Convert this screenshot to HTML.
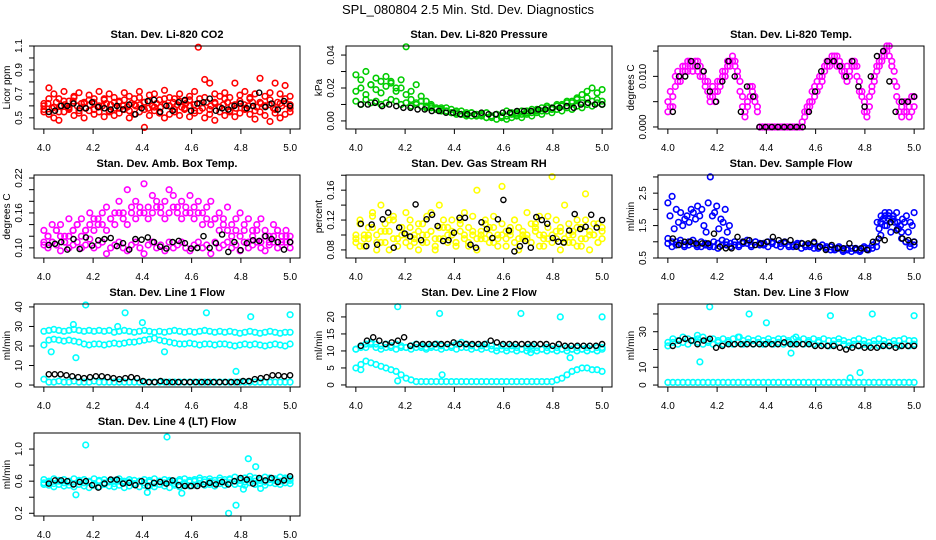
<!DOCTYPE html>
<html><head><meta charset="utf-8">
<style>
html,body{margin:0;padding:0;background:#fff;}
svg{display:block;font-family:"Liberation Sans",Arial,sans-serif;}
</style></head>
<body>
<svg id="chart" width="936" height="540" viewBox="0 0 936 540">
<text x="468" y="14" text-anchor="middle" font-size="13">SPL_080804  2.5 Min. Std. Dev. Diagnostics</text>
</svg>
<script>
// ---- data ----
const xTicks = [4.0,4.2,4.4,4.6,4.8,5.0];
const xTickLabels = ["4.0","4.2","4.4","4.6","4.8","5.0"];

const co2A = [0.62,0.75,0.70,0.66,0.72,0.64,0.68,0.71,0.63,0.69,0.66,0.72,0.65,0.70,0.67,0.64,0.71,0.68,0.66,0.72,0.63,0.69,0.70,0.65,0.73,0.67,0.66,0.70,0.64,0.68,0.72,0.66,0.82,0.79,0.70,0.68,0.71,0.67,0.79,0.69,0.72,0.66,0.70,0.83,0.68,0.71,0.79,0.70,0.77,0.68];
const co2B = [0.55,0.53,0.50,0.48,0.55,0.57,0.52,0.54,0.50,0.56,0.53,0.55,0.51,0.56,0.52,0.54,0.57,0.50,0.53,0.55,0.42,0.52,0.56,0.54,0.50,0.53,0.55,0.52,0.57,0.51,0.54,0.56,0.50,0.53,0.48,0.55,0.52,0.56,0.51,0.54,0.57,0.53,0.49,0.55,0.52,0.47,0.54,0.50,0.53,0.55];
const co2C = [0.60,0.62,0.58,0.63,0.60,0.61,0.59,0.64,0.60,0.62,0.58,0.61,0.63,0.59,0.60,0.62,0.61,0.58,0.63,0.60,0.59,0.62,0.60,0.61,0.63,0.58,0.60,0.62,0.59,0.61,0.60,0.63,0.61,0.59,0.62,0.60,0.61,1.09,0.58,0.63,0.60,0.62,0.59,0.61,0.63,0.60,0.58,0.62,0.61,0.60,0.63,0.59,0.62,0.60,0.61,0.58,0.63,0.60,0.62,0.61];
const co2D = [0.57,0.66,0.59,0.55,0.64,0.58,0.67,0.56,0.62,0.65,0.57,0.60,0.66,0.55,0.63,0.58,0.65,0.56,0.61,0.67,0.57,0.64,0.59,0.55,0.66,0.60,0.57,0.64,0.58,0.65,0.56,0.62,0.67,0.57,0.63,0.59,0.66,0.55,0.61,0.64,0.58,0.67,0.56,0.63,0.60,0.65,0.57,0.62,0.66,0.58];
const co2K = [0.55,0.56,0.60,0.60,0.62,0.58,0.58,0.63,0.59,0.58,0.57,0.60,0.57,0.61,0.53,0.58,0.64,0.65,0.55,0.60,0.56,0.63,0.65,0.56,0.62,0.63,0.66,0.56,0.58,0.57,0.60,0.62,0.58,0.60,0.71,0.59,0.62,0.57,0.64,0.60];

const presA = [0.028,0.025,0.030,0.022,0.026,0.024,0.027,0.023,0.020,0.025,0.045,0.018,0.022,0.015,0.012,0.010,0.008,0.007,0.006,0.005,0.004,0.004,0.003,0.005,0.003,0.004,0.002,0.003,0.004,0.002,0.003,0.004,0.005,0.004,0.006,0.005,0.007,0.006,0.008,0.007,0.009,0.010,0.012,0.011,0.014,0.016,0.018,0.020,0.017,0.019];
const presB = [0.012,0.010,0.013,0.011,0.012,0.010,0.011,0.013,0.012,0.010,0.011,0.009,0.010,0.009,0.008,0.009,0.007,0.008,0.006,0.007,0.005,0.006,0.004,0.005,0.003,0.004,0.002,0.003,0.001,0.002,0.001,0.002,0.003,0.002,0.004,0.003,0.005,0.004,0.006,0.005,0.007,0.006,0.008,0.007,0.009,0.008,0.010,0.009,0.011,0.010];
const presC = [0.018,0.020,0.016,0.022,0.019,0.017,0.021,0.024,0.018,0.020,0.016,0.013,0.011,0.012,0.009,0.008,0.007,0.006,0.008,0.005,0.006,0.004,0.005,0.003,0.004,0.003,0.005,0.002,0.004,0.003,0.006,0.005,0.004,0.006,0.005,0.007,0.006,0.008,0.009,0.008,0.010,0.009,0.011,0.012,0.013,0.011,0.014,0.012,0.013,0.012];
const presK = [0.010,0.010,0.011,0.009,0.010,0.009,0.008,0.008,0.007,0.007,0.006,0.006,0.005,0.005,0.004,0.004,0.004,0.005,0.004,0.004,0.005,0.005,0.006,0.006,0.006,0.007,0.007,0.008,0.008,0.009,0.008,0.010,0.011,0.010,0.010];

const tempA = [0.005,0.007,0.004,0.008,0.009,0.010,0.011,0.012,0.011,0.013,0.012,0.013,0.011,0.012,0.010,0.009,0.007,0.006,0.008,0.005,0.007,0.009,0.010,0.011,0.012,0.013,0.014,0.012,0.010,0.007,0.004,0.003,0.005,0.008,0.007,0.006,0.004,0,0,0,0,0,0,0,0,0,0,0,0,0,0,0,0,0,0,0.002,0.003,0.004,0.005,0.006,0.007,0.008,0.010,0.011,0.012,0.013,0.014,0.013,0.014,0.013,0.012,0.011,0.012,0.010,0.012,0.013,0.012,0.009,0.007,0.005,0.003,0.006,0.008,0.010,0.012,0.013,0.014,0.015,0.016,0.014,0.012,0.009,0.006,0.003,0.004,0.005,0.003,0.004,0.006,0.004];
const tempB = [0.003,0.004,0.006,0.010,0.011,0.009,0.012,0.011,0.013,0.012,0.011,0.012,0.013,0.010,0.011,0.008,0.009,0.005,0.006,0.007,0.009,0.008,0.011,0.010,0.013,0.012,0.013,0.013,0.011,0.009,0.006,0.002,0.004,0.006,0.008,0.005,0.003,0,0,0,0,0,0,0,0,0,0,0,0,0,0,0,0,0,0.001,0.003,0.004,0.005,0.007,0.008,0.009,0.010,0.009,0.012,0.013,0.012,0.013,0.014,0.012,0.012,0.011,0.010,0.009,0.011,0.013,0.012,0.010,0.007,0.006,0.003,0.002,0.004,0.007,0.009,0.011,0.012,0.013,0.014,0.015,0.016,0.013,0.011,0.008,0.005,0.002,0.003,0.005,0.002,0.003,0.006];
const tempK = [0.003,0.010,0.010,0.013,0.012,0.011,0.007,0.005,0.009,0.013,0.010,0.003,0.008,0.006,0,0,0,0,0,0,0,0,0.003,0.007,0.011,0.013,0.013,0.012,0.010,0.013,0.008,0.004,0.010,0.014,0.015,0.009,0.003,0.005,0.005,0.006];

const ambA = [0.13,0.12,0.14,0.13,0.14,0.12,0.15,0.13,0.14,0.15,0.13,0.16,0.15,0.14,0.16,0.17,0.15,0.16,0.18,0.16,0.20,0.17,0.18,0.16,0.21,0.17,0.19,0.18,0.17,0.18,0.20,0.19,0.17,0.18,0.16,0.19,0.17,0.18,0.16,0.17,0.18,0.15,0.16,0.15,0.17,0.14,0.15,0.16,0.14,0.15,0.13,0.14,0.15,0.13,0.12,0.14,0.13,0.12,0.13,0.12];
const ambB = [0.11,0.12,0.11,0.13,0.12,0.11,0.12,0.13,0.14,0.12,0.13,0.14,0.13,0.15,0.14,0.13,0.15,0.14,0.16,0.15,0.14,0.16,0.15,0.17,0.16,0.15,0.16,0.17,0.16,0.15,0.16,0.17,0.16,0.15,0.17,0.16,0.15,0.16,0.14,0.15,0.14,0.15,0.13,0.14,0.13,0.12,0.13,0.12,0.13,0.11,0.12,0.13,0.11,0.12,0.11,0.12,0.13,0.11,0.12,0.11];
const ambC = [0.105,0.10,0.11,0.105,0.095,0.11,0.10,0.105,0.11,0.10,0.105,0.115,0.10,0.105,0.11,0.09,0.10,0.105,0.11,0.10,0.095,0.105,0.11,0.10,0.09,0.105,0.11,0.10,0.105,0.095,0.11,0.10,0.105,0.11,0.10,0.095,0.105,0.11,0.10,0.105,0.09,0.11,0.10,0.105,0.11,0.10,0.105,0.095,0.11,0.10,0.105,0.11,0.10,0.095,0.105,0.11,0.10,0.105,0.11,0.10];
const ambK = [0.105,0.107,0.11,0.097,0.115,0.098,0.118,0.104,0.113,0.115,0.117,0.103,0.108,0.097,0.115,0.114,0.118,0.11,0.102,0.099,0.11,0.112,0.108,0.099,0.1,0.12,0.1,0.108,0.123,0.093,0.11,0.096,0.108,0.113,0.112,0.12,0.115,0.11,0.097,0.11];

const rhA = [0.095,0.115,0.085,0.10,0.125,0.09,0.14,0.105,0.08,0.12,0.095,0.11,0.13,0.085,0.10,0.115,0.09,0.125,0.105,0.08,0.14,0.095,0.11,0.12,0.09,0.105,0.13,0.085,0.10,0.16,0.095,0.115,0.09,0.125,0.10,0.165,0.085,0.11,0.12,0.095,0.105,0.13,0.09,0.115,0.10,0.085,0.125,0.178,0.095,0.11,0.14,0.09,0.105,0.12,0.085,0.155,0.10,0.115,0.09,0.105];
const rhB = [0.09,0.085,0.10,0.095,0.11,0.08,0.105,0.09,0.12,0.095,0.085,0.10,0.09,0.11,0.095,0.08,0.10,0.09,0.105,0.085,0.095,0.11,0.09,0.10,0.085,0.12,0.095,0.09,0.105,0.08,0.10,0.095,0.11,0.09,0.085,0.10,0.095,0.105,0.09,0.08,0.10,0.095,0.09,0.11,0.085,0.10,0.095,0.09,0.105,0.08,0.095,0.10,0.09,0.085,0.11,0.095,0.08,0.10,0.09,0.095];
const rhC = [0.10,0.12,0.095,0.11,0.13,0.10,0.09,0.115,0.105,0.125,0.095,0.11,0.10,0.12,0.09,0.105,0.115,0.10,0.13,0.095,0.11,0.12,0.10,0.105,0.09,0.115,0.10,0.11,0.125,0.095,0.105,0.12,0.10,0.11,0.095,0.115,0.105,0.10,0.12,0.11,0.095,0.10,0.115,0.105,0.125,0.095,0.11,0.10,0.12,0.105,0.09,0.115,0.10,0.11,0.095,0.12,0.105,0.10,0.115,0.11];
const rhK = [0.115,0.085,0.114,0.087,0.121,0.13,0.083,0.11,0.102,0.098,0.141,0.093,0.121,0.127,0.112,0.092,0.093,0.103,0.123,0.123,0.087,0.083,0.117,0.108,0.096,0.121,0.147,0.106,0.078,0.085,0.092,0.083,0.124,0.12,0.115,0.096,0.091,0.09,0.106,0.128,0.108,0.111,0.127,0.11,0.12];

const sfA = [0.95,1.0,0.9,0.95,0.9,1.0,0.95,0.9,0.85,0.95,0.9,0.85,0.95,0.9,1.0,0.95,0.9,0.85,1.0,0.95,0.9,1.0,0.95,0.9,1.0,0.95,0.9,0.85,0.95,0.9,0.85,0.9,0.95,0.85,0.9,0.8,0.85,0.9,0.8,0.85,0.75,0.8,0.7,0.75,0.8,0.75,0.7,0.8,0.75,0.8,0.85,1.2,1.5,1.7,1.8,1.6,1.3,1.0,0.95,0.9];
const sfB = [1.1,0.85,1.0,1.05,0.85,0.9,1.05,0.85,1.0,0.9,0.85,1.0,0.8,1.05,0.9,0.85,1.0,0.9,0.95,1.05,0.85,1.0,0.9,0.95,0.85,1.0,0.9,0.95,1.0,0.85,0.9,0.95,0.8,0.9,0.85,0.95,0.8,0.9,0.85,0.75,0.8,0.85,0.75,0.8,0.7,0.8,0.75,0.85,0.8,0.9,1.0,1.6,1.8,1.9,1.7,1.4,1.1,1.0,0.85,1.0];
const sfEarly = [2.2,1.8,2.4,1.4,2.0,1.6,1.9,1.5,1.7,1.8,1.6,2.0,1.9,1.7,2.1,1.8,2.0,1.5,1.3,2.2,3.0,1.8,1.9,2.1,1.4,1.7,1.6,2.0,1.3,1.5];
const sfLate = [1.6,1.4,1.8,1.7,1.9,1.5,1.8,1.3,1.7,1.6,1.9,1.4,1.5,1.7,1.6,1.8,1.3,1.6,1.5,1.9];
const sfK = [1.1,0.9,1.0,1.0,0.95,0.95,0.95,1.25,0.85,0.8,0.8,1.15,1.0,1.05,0.9,0.95,1.0,1.15,1.05,1.0,1.05,0.85,0.95,0.95,1.0,0.85,0.75,0.9,0.8,0.8,0.95,0.8,0.8,0.75,1.0,1.1,1.05,1.6,1.35,1.1,1.05,1.0];

const l1A = [27.5,28,28.5,28,27.5,28,28.5,28,27.5,28,27.5,28,27.5,28,27,27.5,28,27.5,27,27.5,28,27.5,27,27.5,27,27.5,28,27.5,27,27.5,27,27.5,28,27.5,27,27.5,27,27.5,27,26.5,27,27.5,27,26.5,27,27.5,27,26.5,27,27];
const l1B = [20.5,23,23.5,23,22.5,23,22.5,22,21,20.5,21,21,20.5,21,21.5,21,21.5,22,22,22.5,23,23.5,24,23,22.5,22,21.5,21,21,21.5,21,20.5,21,21,20.5,21,21,20.5,20,20.5,21,20.5,21,20.5,20,20.5,21,20.5,20,21];
const l1C = [3,1.5,1.5,2,1.5,1.5,2,1.5,1.5,1.5,2,1.5,1.5,1.5,1.5,1.5,1.5,1.5,1.5,1.5,1.5,1.5,1.5,1.5,1.5,1.5,1.5,1.5,1.5,1.5,1.5,1.5,1.5,1.5,1.5,1.5,1.5,1.5,1.5,1.5,1.5,1.5,1.5,1.5,1.5,1.5,1.5,1.5,1.5,1.5];
const l1Out = [[4.17,41],[4.33,37],[4.40,32],[4.49,17],[4.66,37],[4.84,35],[5.0,36],[4.13,14],[4.78,7],[4.03,17],[4.12,31],[4.30,30]];
const l1K = [5.5,5.5,5.5,5,4.5,4,3.5,4,4.5,4.5,4,3.5,3,3.5,4,3.5,2,1.5,1.5,2,1.5,1.5,1.5,1.5,1.5,1.5,1.5,1.5,1.5,1.5,1.5,1.5,1.5,2,2,3,3.5,4,5,5,4.5,5];

const l2A = [10.5,11,12,12.5,12,11.5,12,11.5,12,11.5,11,11.5,12,11.5,11,11.5,12,11.5,11,11.5,12,12.5,12,11.5,11,11.5,12,11.5,11,11.5,11,11.5,11,10.5,11,11.5,11,10.5,11,10.5,11,10.5,11,10.5,11,10.5,11,10.5,11,11];
const l2B = [10.5,11.5,11,12,11,10.5,11,11,10.5,11,11,10.5,11,11,10.5,11,11,10.5,11,11,10.5,11,11,10.5,11,10.5,11,10.5,10,10.5,10,10.5,10,10.5,10,10.5,10,10.5,10,10.5,10,10.5,10,10.5,10,10.5,10,10.5,10,10.5];
const l2C = [5,6,7,6.5,6,5.5,5,4.5,4,3,2,1.5,1,1,1,1,1,1,1,1,1,1,1,1,1,1,1,1,1,1,1,1,1,1,1,1,1,1,1,1,1.5,2,3,4,4.5,5,5,4.5,4.5,4];
const l2Out = [[4.17,23],[4.34,21],[4.67,21],[4.83,20],[5.0,20],[4.87,8],[4.71,9.5],[4.35,3],[4.02,4.5],[4.17,1.2]];
const l2K = [11.5,13,14,13,12,12.5,13,14,11.5,12,12,12,12,12,12,12.5,12,12,12,12,12,13,12.5,12,12,12,12,12,12,12,12,11.5,12,11.5,11.5,11.5,11.5,11.5,11.5,12];

const l3A = [24,26,25,27,26,25,26,27,25,26,25,26,25,26,27,25,26,25,26,25,26,25,26,26,25,26,25,26,25,26,25,26,25,25,26,25,24,25,26,25,24,25,26,25,24,25,25,26,25,25];
const l3B = [22,24,23,24,23,25,24,23,24,23,24,23,24,23,24,23,24,23,24,23,24,23,24,23,24,23,24,23,24,23,24,23,22,23,24,23,22,23,22,23,22,23,22,23,22,23,22,23,22,23];
const l3C = [1.5,1.5,1.5,1.5,1.5,1.5,1.5,1.5,1.5,1.5,1.5,1.5,1.5,1.5,1.5,1.5,1.5,1.5,1.5,1.5,1.5,1.5,1.5,1.5,1.5,1.5,1.5,1.5,1.5,1.5,1.5,1.5,1.5,1.5,1.5,1.5,1.5,1.5,1.5,1.5,1.5,1.5,1.5,1.5,1.5,1.5,1.5,1.5,1.5,1.5];
const l3Out = [[4.17,44],[4.33,40],[4.40,35],[4.50,18],[4.66,39],[4.83,40],[5.0,39],[4.13,13],[4.74,4],[4.78,7],[4.12,28],[4.29,27],[4.52,27]];
const l3K = [22,25,26,25,23,25,26,21,22,23,23,23,23,23,23,23,23,23,24,23,23,23,23,22,22,22,22,21,20,21,22,21,21,21,22,22,21,22,22,22];

const l4A = [0.62,0.60,0.63,0.61,0.62,0.60,0.63,0.61,0.62,0.60,0.63,0.61,0.62,0.60,0.61,0.63,0.60,0.62,0.61,0.60,0.62,0.61,0.63,0.60,0.62,0.61,0.60,0.62,0.63,0.61,0.62,0.64,0.62,0.63,0.61,0.64,0.62,0.63,0.65,0.63,0.64,0.66,0.64,0.63,0.65,0.64,0.63,0.65,0.64,0.63];
const l4B = [0.56,0.55,0.53,0.56,0.54,0.55,0.53,0.56,0.54,0.52,0.55,0.53,0.56,0.54,0.53,0.55,0.52,0.54,0.56,0.53,0.55,0.54,0.53,0.56,0.54,0.52,0.55,0.53,0.56,0.54,0.55,0.57,0.55,0.56,0.54,0.57,0.55,0.58,0.56,0.57,0.55,0.58,0.56,0.57,0.55,0.58,0.57,0.56,0.58,0.57];
const l4C = [0.58,0.59,0.57,0.60,0.58,0.59,0.57,0.60,0.58,0.59,0.57,0.60,0.58,0.59,0.57,0.60,0.58,0.59,0.57,0.60,0.58,0.59,0.57,0.60,0.58,0.59,0.57,0.60,0.58,0.59,0.60,0.61,0.59,0.60,0.58,0.61,0.59,0.62,0.60,0.61,0.59,0.62,0.60,0.61,0.59,0.62,0.61,0.60,0.62,0.61];
const l4Out = [[4.17,1.05],[4.50,1.15],[4.13,0.43],[4.75,0.2],[4.78,0.3],[4.83,0.88],[4.86,0.78],[4.56,0.45],[4.42,0.46],[4.81,0.5],[4.88,0.51]];
const l4K = [0.57,0.61,0.61,0.6,0.56,0.59,0.6,0.55,0.52,0.57,0.62,0.62,0.57,0.58,0.55,0.6,0.54,0.58,0.59,0.57,0.61,0.55,0.54,0.54,0.54,0.56,0.58,0.56,0.59,0.56,0.6,0.64,0.62,0.57,0.64,0.61,0.64,0.59,0.61,0.66];

// ---- layout ----
const svg = document.getElementById('chart');
const NS = 'http://www.w3.org/2000/svg';
const colLeft = [34, 346, 658], rowTop = [46, 175, 304, 433], W = 266, H = 83;
const RED='#ff0000', GRN='#00cc00', MAG='#ff00ff', YEL='#ffff00', BLU='#0000ff', CYN='#00ffff';

const panels = [
 {key:'co2', c:0,r:0,title:'Stan. Dev. Li-820 CO2',ylab:'Licor ppm',y:[0.407,1.1],ticks:[0.5,0.6,0.7,0.8,0.9,1.0,1.1],labels:[0.5,0.7,0.9,1.1],fmt:1,
  series:[[co2A,4.0,5.0,RED],[co2B,4.0,5.0,RED],[co2C,4.0,5.0,RED],[co2D,4.0,5.0,RED],[co2K,4.02,5.0,'#000']]},
 {key:'pressure', c:1,r:0,title:'Stan. Dev. Li-820 Pressure',ylab:'kPa',y:[-0.0049,0.0455],ticks:[0,0.01,0.02,0.03,0.04],labels:[0,0.02,0.04],fmt:2,
  series:[[presA,4.0,5.0,GRN],[presB,4.0,5.0,GRN],[presC,4.0,5.0,GRN],[presK,4.02,5.0,'#000']]},
 {key:'temp', c:2,r:0,title:'Stan. Dev. Li-820 Temp.',ylab:'degrees C',y:[-0.0004,0.016],ticks:[0,0.005,0.010,0.015],labels:[0,0.010],fmt:3,
  series:[[tempA,4.0,5.0,MAG],[tempB,4.0,5.0,MAG],[tempK,4.02,5.0,'#000']]},
 {key:'amb', c:0,r:1,title:'Stan. Dev. Amb. Box Temp.',ylab:'degrees C',y:[0.0826,0.2252],ticks:[0.10,0.12,0.14,0.16,0.18,0.20,0.22],labels:[0.10,0.16,0.22],fmt:2,
  series:[[ambA,4.0,5.0,MAG],[ambB,4.0,5.0,MAG],[ambC,4.0,5.0,MAG],[ambK,4.02,5.0,'#000']]},
 {key:'rh', c:1,r:1,title:'Stan. Dev. Gas Stream RH',ylab:'percent',y:[0.0692,0.1803],ticks:[0.08,0.10,0.12,0.14,0.16,0.18],labels:[0.08,0.12,0.16],fmt:2,
  series:[[rhA,4.0,5.0,YEL],[rhB,4.0,5.0,YEL],[rhC,4.0,5.0,YEL],[rhK,4.02,5.0,'#000']]},
 {key:'sample-flow', c:2,r:1,title:'Stan. Dev. Sample Flow',ylab:'ml/min',y:[0.5,3.06],ticks:[0.5,1.0,1.5,2.0,2.5,3.0],labels:[0.5,1.5,2.5],fmt:1,
  series:[[sfA,4.0,5.0,BLU],[sfB,4.0,5.0,BLU],[sfEarly,4.0,4.25,BLU],[sfLate,4.85,5.0,BLU],[sfK,4.02,5.0,'#000']]},
 {key:'line1', c:0,r:2,title:'Stan. Dev. Line 1 Flow',ylab:'ml/min',y:[-1,41.5],ticks:[0,10,20,30,40],labels:[0,10,20,30,40],fmt:0,
  series:[[l1A,4.0,5.0,CYN],[l1B,4.0,5.0,CYN],[l1C,4.0,5.0,CYN],[l1K,4.02,5.0,'#000']],out:[l1Out,CYN]},
 {key:'line2', c:1,r:2,title:'Stan. Dev. Line 2 Flow',ylab:'ml/min',y:[-0.6,23.8],ticks:[0,5,10,15,20],labels:[0,5,10,15,20],fmt:0,
  series:[[l2A,4.0,5.0,CYN],[l2B,4.0,5.0,CYN],[l2C,4.0,5.0,CYN],[l2K,4.02,5.0,'#000']],out:[l2Out,CYN]},
 {key:'line3', c:2,r:2,title:'Stan. Dev. Line 3 Flow',ylab:'ml/min',y:[-1.1,45.6],ticks:[0,10,20,30,40],labels:[0,10,30],fmt:0,
  series:[[l3A,4.0,5.0,CYN],[l3B,4.0,5.0,CYN],[l3C,4.0,5.0,CYN],[l3K,4.02,5.0,'#000']],out:[l3Out,CYN]},
 {key:'line4', c:0,r:3,title:'Stan. Dev. Line 4 (LT) Flow',ylab:'ml/min',y:[0.166,1.2],ticks:[0.2,0.4,0.6,0.8,1.0],labels:[0.2,0.6,1.0],fmt:1,
  series:[[l4A,4.0,5.0,CYN],[l4B,4.0,5.0,CYN],[l4C,4.0,5.0,CYN],[l4K,4.02,5.0,'#000']],out:[l4Out,CYN]}
];

function mk(tag, attrs, parent){
  const e = document.createElementNS(NS, tag);
  for (const k in attrs) e.setAttribute(k, attrs[k]);
  (parent||svg).appendChild(e);
  return e;
}

panels.forEach(p => {
  const L = colLeft[p.c], T = rowTop[p.r];
  const g = mk('g', {});
  
  
  const xs = v => L + (v - 3.96) / 1.08 * W;
  const ys = v => T + H - (v - p.y[0]) / (p.y[1] - p.y[0]) * H;

  const t = mk('text', {x: L + W/2, y: T - 8, 'text-anchor':'middle', 'font-size':'11', 'font-weight':'bold'}, g);
  t.textContent = p.title;
  
  

  const pts = mk('g', {fill:'none'}, g);
  
  
  const drawSeries = (vals, x0, x1, col) => {
    const black = col === '#000';
    vals.forEach((v, i) => {
      const xv = x0 + (x1 - x0) * (vals.length > 1 ? i / (vals.length - 1) : 0);
      const c = mk('circle', {cx: xs(xv).toFixed(1), cy: ys(v).toFixed(1), r: black ? 2.6 : 2.8, stroke: col, 'stroke-width': black ? 1.4 : 1.6}, pts);
      
      
    });
  };
  p.series.filter(s => s[3] !== '#000').forEach(s => drawSeries(s[0], s[1], s[2], s[3]));
  if (p.out) p.out[0].forEach(pr => {
    const c = mk('circle', {cx: xs(pr[0]).toFixed(1), cy: ys(pr[1]).toFixed(1), r: 2.8, stroke: p.out[1], 'stroke-width':1.6}, pts);
    
    
  });
  p.series.filter(s => s[3] === '#000').forEach(s => drawSeries(s[0], s[1], s[2], s[3]));

  const box = mk('rect', {x: L, y: T, width: W, height: H, fill:'none', stroke:'#000', 'stroke-width':'1'}, g);
  
  

  const xa = mk('g', {}, g);
  
  
  xTicks.forEach((v, i) => {
    const X = xs(v);
    mk('line', {x1: X, x2: X, y1: T + H, y2: T + H + 5, stroke:'#000'}, xa);
    const tl = mk('text', {x: X, y: T + H + 22, 'text-anchor':'middle', 'font-size':'10'}, xa);
    tl.textContent = xTickLabels[i];
  });
  const ya = mk('g', {}, g);
  
  
  p.ticks.forEach(v => {
    const Y = ys(v);
    mk('line', {x1: L - 5, x2: L, y1: Y, y2: Y, stroke:'#000'}, ya);
  });
  p.labels.forEach(v => {
    const Y = ys(v);
    const tl = mk('text', {x: 0, y: 0, 'text-anchor':'middle', 'font-size':'10', transform:`translate(${L-12},${Y}) rotate(-90)`}, ya);
    tl.textContent = v.toFixed(p.fmt);
  });
  const yl = mk('text', {x:0, y:0, 'text-anchor':'middle', 'font-size':'10', transform:`translate(${L-24},${T+H/2}) rotate(-90)`}, g);
  yl.textContent = p.ylab;
  
  
});
</script>
</body></html>
